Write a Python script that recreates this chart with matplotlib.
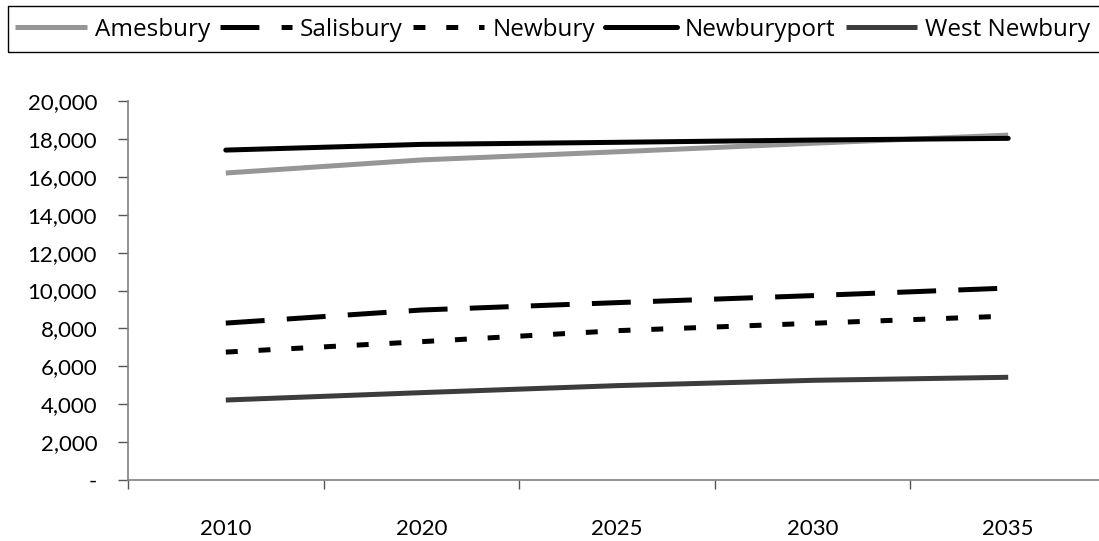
import matplotlib
matplotlib.use("Agg")
import matplotlib.pyplot as plt
from matplotlib.patches import Rectangle
from matplotlib.ticker import FixedLocator, FuncFormatter

years = ["2010", "2020", "2025", "2030", "2035"]
amesbury = [16200, 16890, 17320, 17770, 18200]
salisbury = [8280, 8970, 9360, 9730, 10130]
newbury = [6750, 7300, 7880, 8270, 8650]
newburyport = [17410, 17710, 17820, 17940, 18030]
west_newbury = [4220, 4610, 4980, 5260, 5420]

plt.rcParams['font.family'] = ['Lato', 'DejaVu Sans']
plt.rcParams['lines.scale_dashes'] = False

fig = plt.figure(figsize=(10.99, 5.41), dpi=100)
ax = fig.add_axes([128/1099, 1-480/541, 978/1099, 379/541])

x = [i + 0.5 for i in range(len(years))]
lw = 3.6
ax.plot(x, amesbury, color="#969696", lw=lw, label="Amesbury", solid_capstyle="butt")
ax.plot(x, salisbury, color="black", lw=lw, dashes=(28, 16), dash_capstyle="butt", label="Salisbury")
ax.plot(x, newbury, color="black", lw=lw, dashes=(8.6, 15), dash_capstyle="butt", label="Newbury")
ax.plot(x, newburyport, color="black", lw=lw, label="Newburyport", solid_capstyle="round")
ax.plot(x, west_newbury, color="#3c3c3c", lw=lw, label="West Newbury", solid_capstyle="butt")

ax.set_xlim(0, len(years))
ax.set_ylim(0, 20000)
ax.set_yticks(range(0, 20001, 2000))
ax.yaxis.set_major_formatter(FuncFormatter(lambda v, p: "-" if v == 0 else f"{int(v):,}"))
ax.xaxis.set_major_locator(FixedLocator(range(0, len(years) + 1)))
ax.xaxis.set_major_formatter(FuncFormatter(lambda v, p: ""))
ax.xaxis.set_minor_locator(FixedLocator(x))
ax.set_xticklabels(years, minor=True)
ax.tick_params(axis="x", which="minor", length=0, pad=28, labelsize=16)
ax.tick_params(axis="x", which="major", length=6.5, width=1, color="#555555", direction="out")
ax.tick_params(axis="y", length=7.2, width=1, color="#555555", direction="out", labelsize=16, pad=15)

for s in ["top", "right"]:
    ax.spines[s].set_visible(False)
ax.spines["left"].set_color("#808080")
ax.spines["bottom"].set_color("#808080")
ax.spines["left"].set_linewidth(1.2)
ax.spines["bottom"].set_linewidth(1.2)

leg = fig.legend(loc="center left", bbox_to_anchor=(8/1099, 1-30/541),
                 ncol=5, frameon=False,
                 prop={"family": ["Open Sans", "DejaVu Sans"], "size": 17.5},
                 handlelength=2.96, handletextpad=0.33, columnspacing=0.41,
                 borderpad=0.28, borderaxespad=0)
fig.add_artist(Rectangle((8/1099, 1-52/541), 1.0, 46/541, transform=fig.transFigure,
                         fill=False, edgecolor="black", linewidth=1.0))

fig.savefig("out.png", dpi=100)
